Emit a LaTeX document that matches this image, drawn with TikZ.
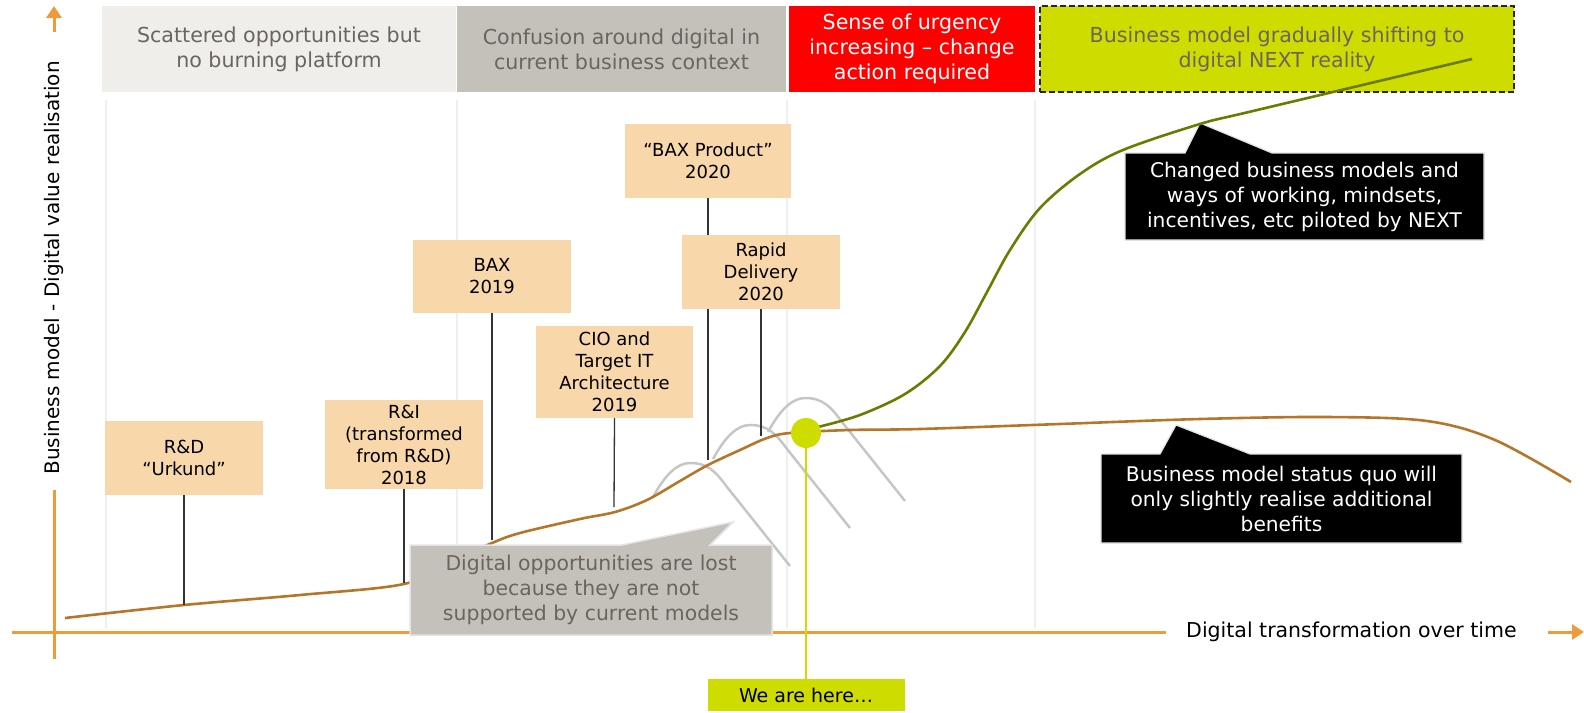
\documentclass[tikz,border=0pt]{standalone}
\usepackage{fontspec}
\setmainfont{DejaVu Sans}
\usetikzlibrary{arrows.meta}
\definecolor{axisor}{HTML}{EE9B3C}
\definecolor{hdrA}{HTML}{EFEEEA}
\definecolor{hdrB}{HTML}{C4C0BA}
\definecolor{hdrC}{HTML}{FF0000}
\definecolor{lime}{HTML}{CFDC00}
\definecolor{txtgray}{HTML}{6B6560}
\definecolor{peach}{HTML}{F8D7AA}
\definecolor{brownc}{HTML}{B5762A}
\definecolor{olivec}{HTML}{6B7A00}
\definecolor{bellgray}{HTML}{C6C6C6}
\definecolor{gridc}{HTML}{EFEFEF}
\definecolor{callborder}{HTML}{E4E4E4}
\tikzset{
  hdr/.style={rectangle, minimum height=86pt, align=center, inner sep=0pt, font=\fontsize{20.6}{25}\selectfont},
  peachbox/.style={rectangle, fill=peach, align=center, inner sep=0pt, font=\fontsize{18}{22}\selectfont},
  calltext/.style={align=center, inner sep=0pt, font=\fontsize{20.2}{25}\selectfont},
  conn/.style={draw=black!80, line width=1.3pt},
  gridline/.style={draw=gridc, line width=1.5pt},
  axisline/.style={draw=axisor, line width=3pt},
  bell/.style={draw=bellgray, line width=2.5pt},
}
\begin{document}
\begin{tikzpicture}[x=1pt,y=-1pt]
\useasboundingbox (0,0) rectangle (1584,712);
% grid
\foreach \gx in {106,457,787,1035} \draw[gridline] (\gx,100) -- (\gx,628);
% axes
\coordinate (hx0) at (12,632);
\coordinate (hx1) at (1166,632);
\coordinate (ha0) at (1548,632);
\coordinate (ha1) at (1584,632);
\coordinate (vy0) at (54,659);
\coordinate (vy1) at (54,490);
\coordinate (va0) at (54,32);
\coordinate (va1) at (54,6);
\draw[axisline] (hx0) -- (hx1);
\draw[axisline, -{Triangle[length=12pt,width=15pt]}] (ha0) -- (ha1);
\draw[axisline] (vy0) -- (vy1);
\draw[axisline, -{Triangle[length=12pt,width=15pt]}] (va0) -- (va1);
% bells
\foreach \bx/\by in {653/497, 713/459, 768/432}
  \draw[bell, shift={(\bx,\by)}] (0,0) .. controls (12,-22) and (24,-34) .. (37,-34)
     .. controls (55,-34) and (63,-25) .. (74,-10) -- (137,69);
% brown curve
\draw[brownc, line width=2.6pt] plot[smooth, tension=0.55] coordinates {
  (65,618) (184,605) (300,595) (404,584) (450,562) (492,543) (520,533) (580,519)
  (615,512) (647,500) (680,481) (708,465) (740,450) (767,438) (790,433) (850,430)
  (920,429) (1060,424) (1200,419) (1327,417) (1427,421) (1495,440) (1571,482)};
% peach boxes
\node[peachbox, minimum width=158pt, minimum height=74pt] (rd) at (184,458) {R\&D\\“Urkund”};
\node[peachbox, minimum width=158pt, minimum height=89pt] (ri) at (404,444.5) {R\&I\\(transformed\\from R\&D)\\2018};
\node[peachbox, minimum width=158pt, minimum height=73pt] (bax) at (492,276.5) {BAX\\2019};
\node[peachbox, minimum width=157pt, minimum height=92pt] (cio) at (614.5,372) {CIO and\\Target IT\\Architecture\\2019};
\node[peachbox, minimum width=166pt, minimum height=74pt] (baxp) at (708,161) {“BAX Product”\\2020};
\coordinate (c1) at (184,605);
\coordinate (c2) at (404,583);
\coordinate (c3) at (492,540);
\coordinate (c4) at (614,507);
\coordinate (c5) at (708,460);
\coordinate (c6) at (761,436);
\draw[conn] (rd.south) -- (c1);
\draw[conn] (ri.south) -- (c2);
\draw[conn] (bax.south) -- (c3);
\draw[conn] (cio.south) -- (c4);
\draw[conn] (baxp.south) -- (c5);
\node[peachbox, minimum width=158pt, minimum height=74pt] (rapid) at (761,272) {Rapid\\Delivery\\2020};
\draw[conn] (rapid.south) -- (c6);
% gray callout
\draw[fill=hdrB, draw=callborder, line width=1.5pt]
  (410,545) -- (622,545) -- (733,522) -- (710,545) -- (772,545) -- (772,635) -- (410,635) -- cycle;
\node[calltext, text=txtgray, font=\fontsize{20.4}{25}\selectfont] (lost) at (591,590)
  {Digital opportunities are lost\\because they are not\\supported by current models};
% black callouts
\draw[fill=black, draw=callborder, line width=1.2pt]
  (1125,153) -- (1185,153) -- (1200,123) -- (1272,153) -- (1484,153) -- (1484,240) -- (1125,240) -- cycle;
\node[calltext, text=white] (chg) at (1304.5,196.5)
  {Changed business models and\\ways of working, mindsets,\\incentives, etc piloted by NEXT};
\draw[fill=black, draw=callborder, line width=1.2pt]
  (1101,454) -- (1160,454) -- (1176,425) -- (1250,454) -- (1462,454) -- (1462,543) -- (1101,543) -- cycle;
\node[calltext, text=white] (sq) at (1281.5,498.5)
  {Business model status quo will\\only slightly realise additional\\benefits};
% headers
\node[hdr, fill=hdrA, text=txtgray, minimum width=354pt] (h1) at (279,49) {Scattered opportunities but\\no burning platform};
\node[hdr, fill=hdrB, text=txtgray, minimum width=329pt] (h2) at (621.5,49) {Confusion around digital in\\current business context};
\node[hdr, fill=hdrC, text=white, minimum width=246pt] (h3) at (912,49) {Sense of urgency\\increasing – change\\action required};
\node[hdr, fill=lime, text=txtgray, minimum width=474pt, draw=black!85, line width=1.5pt, dash pattern=on 6pt off 3pt] (h4) at (1277,49) {Business model gradually shifting to\\digital NEXT reality};
% olive curve (over the header)
\draw[olivec, line width=2.6pt] plot[smooth, tension=0.55] coordinates {
  (818,427) (860,415) (905,394) (940,366) (965,332) (987,292) (1010,250) (1040,208)
  (1080,174) (1123,150) (1200,124) (1253,111) (1472,59)};
% we are here
\node[rectangle, fill=lime, minimum width=197pt, minimum height=32pt, inner sep=0pt, font=\fontsize{19}{23}\selectfont] (we) at (806,695) {We are here…};
\node[circle, fill=lime, minimum size=30pt, inner sep=0pt] (here) at (806,433) {};
\draw[lime, line width=1.8pt] (here.south) -- (we.north);
% axis labels
\node[font=\fontsize{20.5}{24}\selectfont, anchor=west, inner sep=0pt] (xl) at (1186,632) {Digital transformation over time};
\node[font=\fontsize{20}{24}\selectfont, rotate=90, inner sep=0pt] (yl) at (54,268) {Business model - Digital value realisation};
\end{tikzpicture}
\end{document}
